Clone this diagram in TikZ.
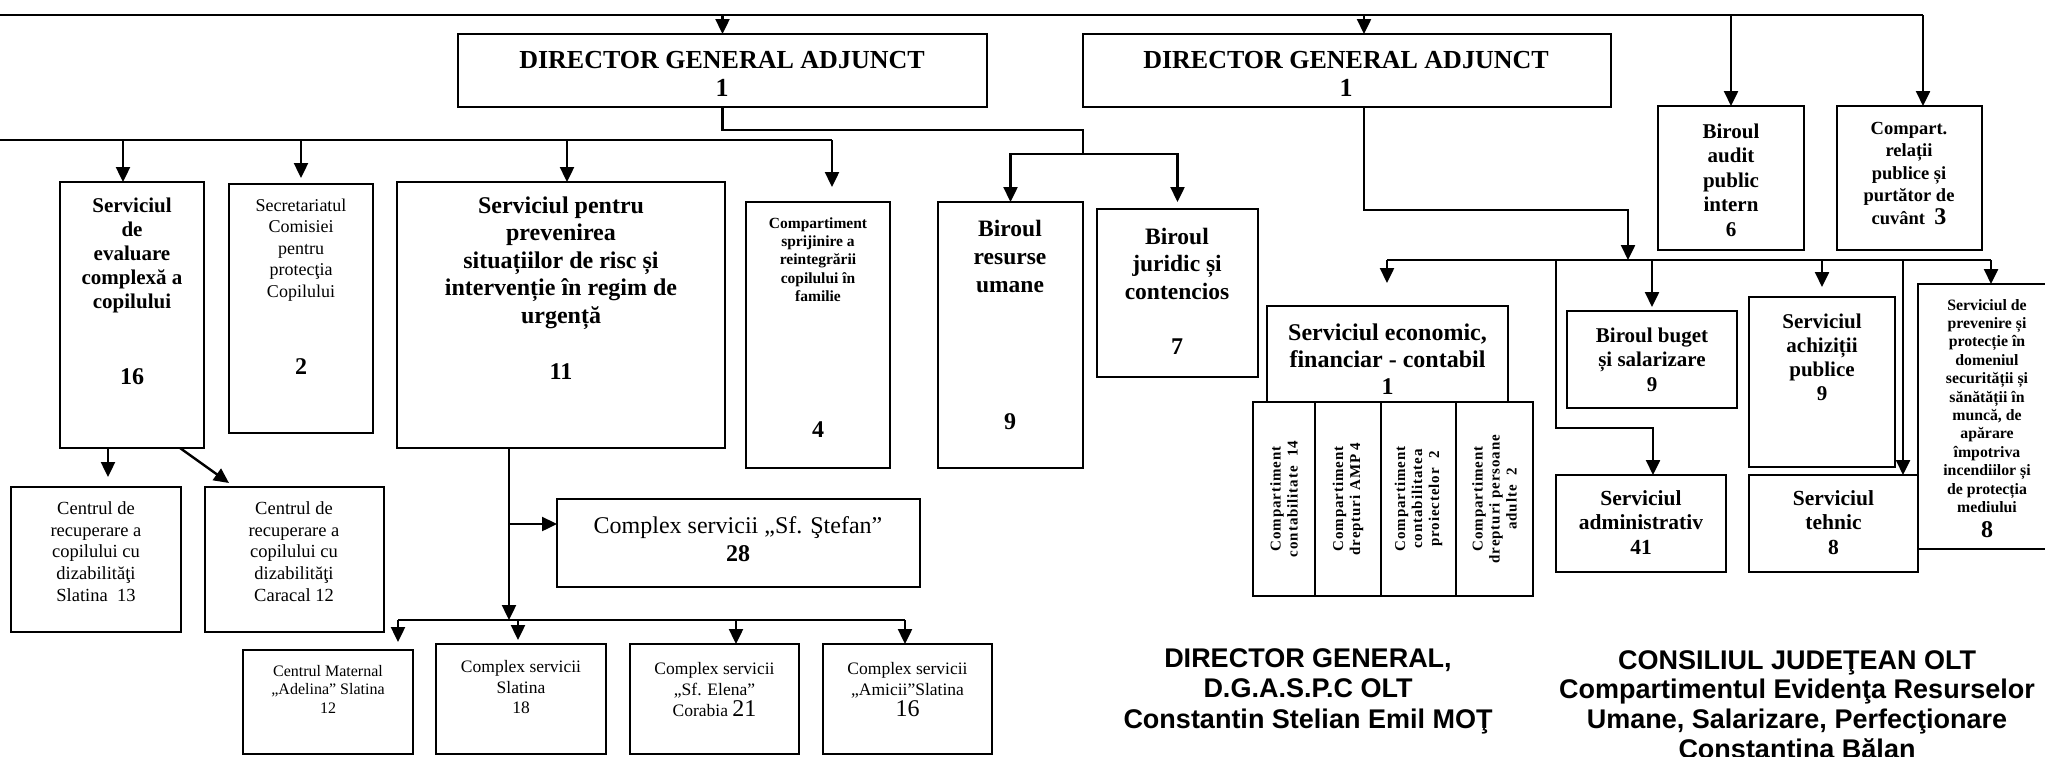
\documentclass[tikz,border=0pt]{standalone}
\usepackage{fontspec}
\setmainfont{Liberation Serif}
\newfontfamily\signfont{Liberation Sans}
\usetikzlibrary{arrows.meta}
\newcommand{\fb}[2]{\fontsize{#1}{#2}\selectfont\bfseries}
\newcommand{\fr}[2]{\fontsize{#1}{#2}\selectfont}
% box from its top-left and bottom-right corners (in px-like pt units)
\newcommand{\orgbox}[5]{\node[box, minimum width={(#4-#2)*1pt}, minimum height={(#5-#3)*1pt}] (#1) at (#2,#3) {};}
\begin{document}
\begin{tikzpicture}[x=1pt, y=-1pt, line width=2.4pt,
  box/.style={draw, rectangle, inner sep=0pt, outer sep=0pt, anchor=north west},
  lbl/.style={inner sep=0pt, outer sep=0pt, align=center},
  arr/.style={-{Triangle[length=15pt,width=14pt]}}]
\useasboundingbox (0,0) rectangle (2045,756);
\clip (0,0) rectangle (2045,756);

% ---------- boxes ----------
\orgbox{dga1}{458}{34}{987}{107}
\orgbox{dga2}{1083}{34}{1611}{107}
\orgbox{audit}{1658}{106}{1804}{250}
\orgbox{compart}{1837}{106}{1982}{250}
\orgbox{eval}{60}{182}{204}{448}
\orgbox{secr}{229}{184}{373}{433}
\orgbox{urg}{397}{182}{725}{448}
\orgbox{sprij}{746}{202}{890}{468}
\orgbox{resurse}{938}{202}{1083}{468}
\orgbox{juridic}{1097}{209}{1258}{377}
\orgbox{slatC}{11}{487}{181}{632}
\orgbox{caracal}{205}{487}{384}{632}
\orgbox{stefan}{557}{499}{920}{587}
\orgbox{maternal}{243}{650}{413}{754}
\orgbox{cslatina}{436}{644}{606}{754}
\orgbox{elena}{630}{644}{799}{754}
\orgbox{amicii}{823}{644}{992}{754}
\orgbox{econ}{1267}{306}{1508}{402}
\orgbox{c1}{1253}{402}{1315}{596}
\orgbox{c2}{1315}{402}{1381}{596}
\orgbox{c3}{1381}{402}{1456}{596}
\orgbox{c4}{1456}{402}{1533}{596}
\orgbox{buget}{1567}{311}{1737}{408}
\orgbox{achiz}{1749}{297}{1895}{467}
\orgbox{admin}{1556}{475}{1726}{572}
\orgbox{tehnic}{1749}{475}{1918}{572}
\orgbox{ssm}{1918}{284}{2064}{549}

% ---------- texts ----------
\node[lbl,font={\fb{26}{28}}] (dga1T) at (722,74) {DIRECTOR GENERAL ADJUNCT\\1};
\node[lbl,font={\fb{26}{28}}] (dga2T) at (1346,74) {DIRECTOR GENERAL ADJUNCT\\1};
\node[lbl,font={\fb{21}{24.5}}] (auditT) at (1731,180) {Biroul\\audit\\public\\intern\\6};
\node[lbl,font={\fb{18.5}{22.5}}] (compartT) at (1909,173) {Compart.\\relații\\publice și\\purtător de\\cuvânt\ \ {\fontsize{24}{22.5}\selectfont 3}};
\node[lbl,font={\fb{21}{24}}] (evalT) at (132,255) {Serviciul\\de\\evaluare\\complexă a\\copilului};
\node[lbl,font={\fb{24}{28}}] (evalN) at (132,377) {16};
\node[lbl,font={\fr{18}{21.5}}] (secrT) at (301,250) {Secretariatul\\Comisiei\\pentru\\protecţia\\Copilului};
\node[lbl,font={\fb{24}{28}}] (secrN) at (301,367) {2};
\node[lbl,font={\fb{24}{27.5}}] (urgT) at (561,263) {Serviciul pentru\\prevenirea\\situațiilor de risc și\\intervenție în regim de\\urgență};
\node[lbl,font={\fb{24}{28}}] (urgN) at (561,372) {11};
\node[lbl,font={\fb{15.5}{18.3}}] (sprijT) at (818,259.5) {Compartiment\\sprijinire a\\reintegrării\\copilului în\\familie};
\node[lbl,font={\fb{24}{28}}] (sprijN) at (818,430) {4};
\node[lbl,font={\fb{23.5}{28}}] (resT) at (1010,256) {Biroul\\resurse\\umane};
\node[lbl,font={\fb{24}{28}}] (resN) at (1010,422) {9};
\node[lbl,font={\fb{23.5}{27.5}}] (jurT) at (1177,263.5) {Biroul\\juridic și\\contencios};
\node[lbl,font={\fb{24}{28}}] (jurN) at (1177,347) {7};
\node[lbl,font={\fr{18.5}{21.7}}] (slatCT) at (96,551.5) {Centrul de\\recuperare a\\copilului cu\\dizabilităţi\\Slatina\ \ 13};
\node[lbl,font={\fr{18.5}{21.7}}] (caracalT) at (294,551.5) {Centrul de\\recuperare a\\copilului cu\\dizabilităţi\\Caracal 12};
\node[lbl,font={\fr{24}{28}}] (stefanT) at (738,539) {Complex servicii „Sf. Ştefan”\\\textbf{28}};
\node[lbl,font={\fr{16}{18.5}}] (maternalT) at (328,689) {Centrul Maternal\\„Adelina” Slatina\\12};
\node[lbl,font={\fr{17.5}{20.5}}] (cslatinaT) at (521,687.5) {Complex servicii\\Slatina\\18};
\node[lbl,font={\fr{17.5}{21}}] (elenaT) at (714.5,690) {Complex servicii\\„Sf. Elena”\\Corabia {\fontsize{24}{21}\selectfont 21}};
\node[lbl,font={\fr{17.5}{21}}] (amiciiT) at (907.5,690) {Complex servicii\\„Amicii”Slatina\\{\fontsize{24}{21}\selectfont 16}};
\node[lbl,font={\fb{24}{27}}] (econT) at (1387.5,359) {Serviciul economic,\\financiar - contabil\\1};
\node[lbl,rotate=90,font={\fb{15}{17}\addfontfeature{LetterSpace=6}}] (c1T) at (c1.center) {Compartiment\\contabilitate\ \ 14};
\node[lbl,rotate=90,font={\fb{15}{17}\addfontfeature{LetterSpace=6}}] (c2T) at (c2.center) {Compartiment\\drepturi AMP 4};
\node[lbl,rotate=90,font={\fb{15}{17}\addfontfeature{LetterSpace=6}}] (c3T) at (c3.center) {Compartiment\\contabilitatea\\proiectelor\ \ 2};
\node[lbl,rotate=90,font={\fb{15}{17}\addfontfeature{LetterSpace=6}}] (c4T) at (c4.center) {Compartiment\\drepturi persoane\\adulte\ \ 2};
\node[lbl,font={\fb{21}{24.5}}] (bugetT) at (1652,359.5) {Biroul buget\\și salarizare\\9};
\node[lbl,font={\fb{21}{24}}] (achizT) at (1822,357) {Serviciul\\achiziții\\publice\\9};
\node[lbl,font={\fb{21.5}{24.5}}] (adminT) at (1641,522.5) {Serviciul\\administrativ\\41};
\node[lbl,font={\fb{21.5}{24.5}}] (tehnicT) at (1833.5,522.5) {Serviciul\\tehnic\\8};
\node[lbl,font={\fb{15.8}{18.4}}] (ssmT) at (1987,406) {Serviciul de\\prevenire și\\protecție în\\domeniul\\securității și\\sănătății în\\muncă, de\\apărare\\împotriva\\incendiilor și\\de protecția\\mediului};
\node[lbl,font={\fb{24}{28}}] (ssmN) at (1987,530) {8};
\node[lbl,font={\signfont\fb{27}{30.5}}] (signL) at (1308,691) {DIRECTOR GENERAL,\\D.G.A.S.P.C OLT\\Constantin Stelian Emil MOŢ};
\node[lbl,font={\signfont\fb{27}{29.7}}] (signR) at (1797,704.5) {CONSILIUL JUDEŢEAN OLT\\Compartimentul Evidenţa Resurselor\\Umane, Salarizare, Perfecţionare\\Constantina Bălan};

% ---------- connectors ----------
% top line
\coordinate (t0) at (0,15);
\coordinate (t1) at (1923,15);
\draw (t0) -- (t1);
\draw[arr] (t0 -| dga1.north) -- (dga1.north);
\draw[arr] ([xshift=17pt]dga2.north |- t0) -- ([xshift=17pt]dga2.north);
\draw[arr] (t0 -| audit.north) -- (audit.north);
\draw[arr] (t1) -- (t1 |- compart.north);

% first deputy: legal and human resources offices
\coordinate (k1) at (1083,130);
\coordinate (k2) at (1083,154);
\draw (dga1.south) |- (k1) -- (k2);
\draw[arr] (k2) -| (resurse.north);
\draw[arr, shorten >=7pt] (k2) -| (juridic.north);

% left bus
\coordinate (lb0) at (0,140);
\coordinate (lb1) at (832,140);
\draw (lb0) -- (lb1);
\draw[arr] ([xshift=-9pt]eval.north |- lb0) -- ([xshift=-9pt]eval.north);
\draw[arr, shorten >=6pt] (secr.north |- lb0) -- (secr.north);
\draw[arr] ([xshift=6pt]urg.north |- lb0) -- ([xshift=6pt]urg.north);
\draw[arr, shorten >=15pt] (lb1) -- (lb1 |- sprij.north);

% evaluation service to recovery centres
\draw[arr, shorten >=10pt] ([xshift=-24pt]eval.south) -- ([xshift=-24pt]eval.south |- slatC.north);
\coordinate (d1) at (229,483);
\draw[arr] ([xshift=-24pt]eval.south east) -- (d1);

% emergency service to its complexes
\coordinate (pb) at (509,620);
\coordinate (bb0) at (398,620);
\coordinate (bb1) at (905,620);
\draw[arr] (pb |- urg.south) -- (pb);
\draw[arr] ([yshift=19pt]stefan.west -| pb) -- ([yshift=19pt]stefan.west);
\draw (bb0) -- (bb1);
\draw[arr, shorten >=8pt] (bb0) -- (bb0 |- maternal.north);
\draw[arr, shorten >=4pt] ([xshift=-3pt]cslatina.north |- bb0) -- ([xshift=-3pt]cslatina.north);
\draw[arr] ([xshift=21.5pt]elena.north |- bb0) -- ([xshift=21.5pt]elena.north);
\draw[arr] (bb1) -- (bb1 |- amicii.north);

% second deputy: right bus
\coordinate (rk) at (1628,210);
\coordinate (rb0) at (1387,260);
\coordinate (rb1) at (1991,260);
\draw[arr] ([xshift=17pt]dga2.south) |- (rk) -- (rk |- rb0);
\draw (rb0) -- (rb1);
\draw[arr, shorten >=23pt] (rb0) -- (rb0 |- econ.north);
\draw[arr, shorten >=4pt] (rb0 -| buget.north) -- (buget.north);
\draw[arr, shorten >=10pt] (rb0 -| achiz.north) -- (achiz.north);
\draw[arr] (rb1) -- (rb1 |- ssm.north);
\coordinate (a1) at (1556,428);
\draw[arr] (rb0 -| admin.north west) -- (a1) -| ([xshift=12pt]admin.north);
\draw[arr] ([xshift=69.5pt]tehnic.north |- rb0) -- ([xshift=69.5pt]tehnic.north);
\end{tikzpicture}
\end{document}
